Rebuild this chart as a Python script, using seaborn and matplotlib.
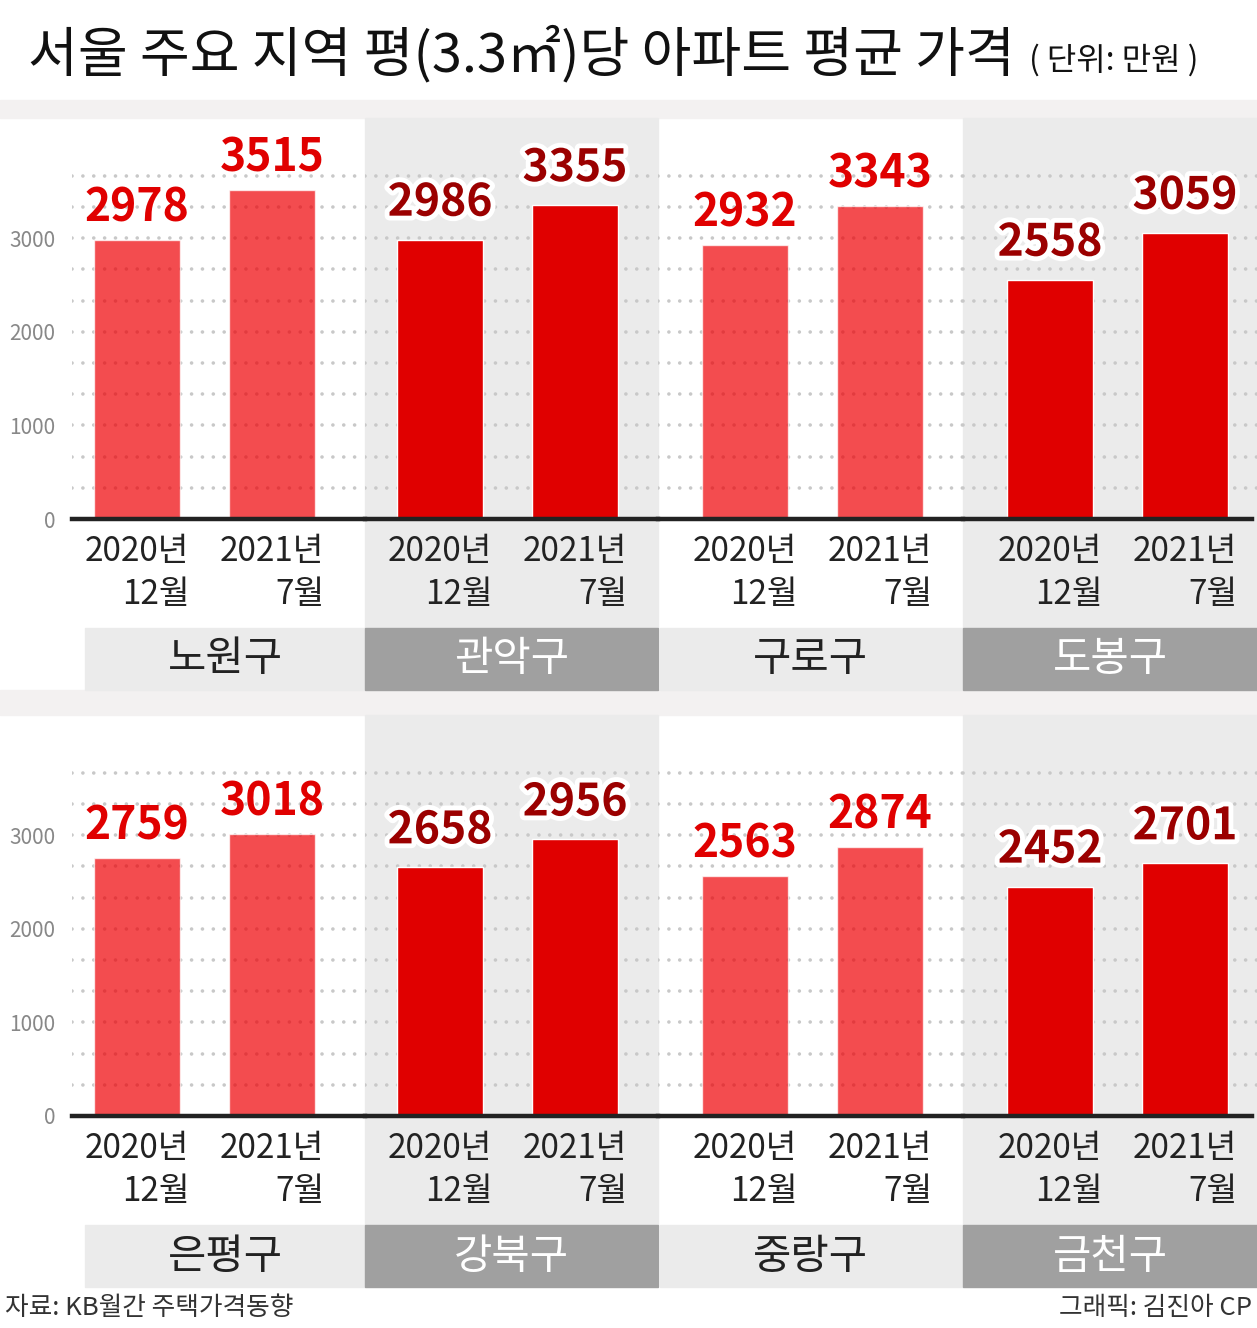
import numpy as np
import pandas as pd
import matplotlib
matplotlib.use("Agg")
import matplotlib.pyplot as plt
import matplotlib.patheffects as pe
from matplotlib.patches import Rectangle
from matplotlib import font_manager
import seaborn as sns

# data
districts = ['노원구', '관악구', '구로구', '도봉구', '은평구', '강북구', '중랑구', '금천구']
periods = ['2020년\n12월', '2021년\n7월']
price_2020_12 = [2978, 2986, 2932, 2558, 2759, 2658, 2563, 2452]
price_2021_07 = [3515, 3355, 3343, 3059, 3018, 2956, 2874, 2701]
yticks = [0, 1000, 2000, 3000]

df = pd.DataFrame({
    'district': np.repeat(districts, 2),
    'period': periods * len(districts),
    'price': np.ravel(np.column_stack([price_2020_12, price_2021_07])),
})

sns.set_theme(style='white')
plt.rcParams['font.family'] = ['Noto Sans CJK KR', 'DejaVu Sans']

installed = {f.name for f in font_manager.fontManager.ttflist}
if 'Liberation Sans Narrow' in installed:
    num_family, num_size = ['Liberation Sans Narrow', 'Noto Sans CJK KR'], 37
else:
    num_family, num_size = ['Noto Sans CJK KR'], 32

W, H = 1257, 1328
fig = plt.figure(figsize=(W / 100, H / 100), dpi=100)


def box(x0, y0, x1, y1):
    return [x0 / W, 1 - y1 / H, (x1 - x0) / W, (y1 - y0) / H]


def rect(x0, y0, x1, y1, color):
    fig.patches.append(Rectangle((x0 / W, 1 - y1 / H), (x1 - x0) / W, (y1 - y0) / H,
                                 transform=fig.transFigure, color=color, zorder=-5))


LIGHT_BAR = '#ee0005'
DARK_BAR = '#e00000'
PANEL_GRAY = '#ebebeb'
BAND_DARK = '#a0a0a0'
STRIP = '#f3f1f1'

# panel columns: (left, right, first bar centre)
cols = [(72, 365, 137), (365, 658, 440), (658, 963, 745), (963, 1257, 1050)]
step = 135
row_offsets = [0, 597]

rect(0, 100, W, 118, STRIP)
rect(0, 690, W, 715, STRIP)

for r, dy in enumerate(row_offsets):
    for c, (x0, x1, c0) in enumerate(cols):
        k = r * 4 + c
        name = districts[k]
        sub = df[df['district'] == name]
        gray = c % 2 == 1
        if gray:
            rect(x0, 118 + dy, x1, 628 + dy, PANEL_GRAY)
            rect(x0, 628 + dy, x1, 690 + dy, BAND_DARK)
        else:
            rect(x0 + (13 if c == 0 else 2), 628 + dy, x1, 690 + dy, PANEL_GRAY)

        ax = fig.add_axes(box(x0, 118 + dy, x1, 519 + dy))
        ax.set_facecolor('none')
        for g in np.arange(1, 12) * 1000 / 3:
            ax.axhline(g, color='#c8c8c8', lw=2.6, linestyle=(0, (0.01, 3.0)),
                       dash_capstyle='round', zorder=0)
        sns.barplot(data=sub, x='period', y='price', ax=ax, width=0.64,
                    color=DARK_BAR if gray else LIGHT_BAR, saturation=1,
                    alpha=1 if gray else 0.7, errorbar=None, zorder=2)
        ax.set_xlim((x0 - c0) / step, (x1 - c0) / step)
        ax.set_ylim(0, 4285)
        ax.set_xlabel('')
        ax.set_ylabel('')
        for s in ['top', 'left', 'right']:
            ax.spines[s].set_visible(False)
        ax.spines['bottom'].set_color('#222222')
        ax.spines['bottom'].set_linewidth(3.2)
        if c == 3:
            ax.spines['bottom'].set_bounds(ax.get_xlim()[0], (1252 - c0) / step)
        ax.tick_params(axis='x', length=0, pad=11, labelsize=24, labelcolor='#222222')
        for lbl in ax.get_xticklabels():
            lbl.set_multialignment('right')
            lbl.set_linespacing(1.3)
        if c == 0:
            ax.set_yticks(yticks)
            ax.tick_params(axis='y', length=0, pad=12, labelsize=15, labelcolor='#888888')
        else:
            ax.set_yticks([])

        for i, v in enumerate(sub['price']):
            if gray:
                ax.annotate(f'{v}', (i, v), xytext=(0, 10), textcoords='offset points',
                            ha='center', va='bottom', family=num_family, fontsize=num_size,
                            fontweight='bold', color='#9b0000', zorder=5,
                            path_effects=[pe.withStroke(linewidth=7, foreground='white')])
            else:
                ax.annotate(f'{v}', (i, v), xytext=(0, 6), textcoords='offset points',
                            ha='center', va='bottom', family=num_family, fontsize=num_size,
                            fontweight='bold', color='#e00000', zorder=5)

        fig.text(((x0 + 13 if c == 0 else x0) + x1) / 2 / W, 1 - (660 + dy) / H, name,
                 ha='center', va='center', fontsize=30,
                 color='white' if gray else '#222222')

title = fig.text(28 / W, 1 - 55 / H, '서울 주요 지역 평(3.3㎡)당 아파트 평균 가격',
                 ha='left', va='center', fontsize=39, fontweight='medium', color='#111111')
fig.canvas.draw()
tb = title.get_window_extent()
fig.text((tb.x1 + 14) / W, 1 - 60 / H, '( 단위: 만원 )', ha='left', va='center',
         fontsize=23, color='#111111')

fig.text(5 / W, 1 - 1308 / H, '자료: KB월간 주택가격동향', ha='left', va='center',
         fontsize=18.5, color='#333333')
fig.text(1252 / W, 1 - 1308 / H, '그래픽: 김진아 CP', ha='right', va='center',
         fontsize=18.5, color='#333333')

fig.savefig('out.png', dpi=100, facecolor='white')
